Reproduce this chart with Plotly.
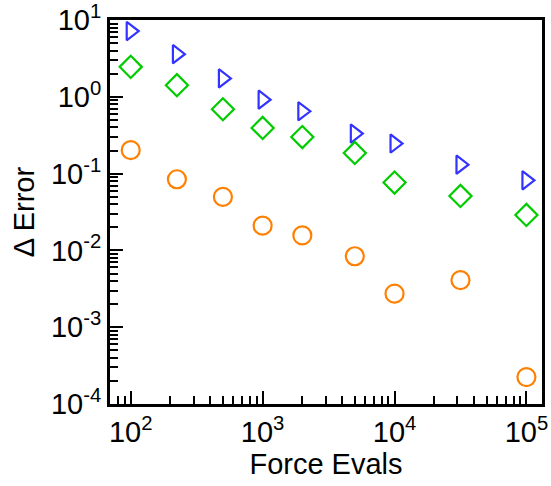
import plotly.graph_objects as go

force_evals = [100, 224, 500, 1000, 2000, 5000, 10000, 31623, 100000]
err_blue = [7.2, 3.6, 1.74, 0.92, 0.65, 0.333, 0.247, 0.131, 0.082]
err_green = [2.46, 1.42, 0.69, 0.394, 0.30, 0.186, 0.0766, 0.0512, 0.029]
err_orange = [0.202, 0.0845, 0.0497, 0.021, 0.0157, 0.0084, 0.00273, 0.0041, 0.000224]

x_tickvals = [1e2, 1e3, 1e4, 1e5]
x_ticktext = ["10<sup>2</sup>", "10<sup>3</sup>", "10<sup>4</sup>", "10<sup>5</sup>"]
y_tickvals = [1e-4, 1e-3, 1e-2, 1e-1, 1e0, 1e1]
y_ticktext = ["10<sup>-4</sup>", "10<sup>-3</sup>", "10<sup>-2</sup>", "10<sup>-1</sup>", "10<sup>0</sup>", "10<sup>1</sup>"]
minor_mult = [2, 3, 4, 5, 6, 7, 8, 9]
x_minor = [m * 10 ** e for e in range(1, 6) for m in minor_mult]
y_minor = [m * 10.0 ** e for e in range(-4, 1) for m in minor_mult]

fig = go.Figure()
fig.add_trace(go.Scatter(x=force_evals, y=err_blue, mode="markers",
                         marker=dict(symbol="triangle-right-open", size=16, color="#3333ff",
                                     line=dict(width=2.2, color="#3333ff"))))
fig.add_trace(go.Scatter(x=force_evals, y=err_green, mode="markers",
                         marker=dict(symbol="diamond-open", size=17, color="#00cc00",
                                     line=dict(width=2.2, color="#00cc00"))))
fig.add_trace(go.Scatter(x=force_evals, y=err_orange, mode="markers",
                         marker=dict(symbol="circle-open", size=18, color="#ff8000",
                                     line=dict(width=2.2, color="#ff8000"))))

font = "Liberation Sans, Arial, sans-serif"
fig.update_layout(
    width=551, height=486,
    margin=dict(l=110, r=9, t=20, b=82),
    plot_bgcolor="white", paper_bgcolor="white",
    showlegend=False,
    font=dict(family=font, color="black", size=29),
)
common = dict(ticks="inside", ticklen=13, tickwidth=2, tickcolor="black",
              showline=True, linewidth=3, linecolor="black", mirror=True,
              showgrid=False, zeroline=False,
              tickfont=dict(size=29, family=font))
fig.update_xaxes(type="log", range=[1.843, 5.118], automargin="bottom",
                 tickvals=x_tickvals, ticktext=x_ticktext,
                 minor=dict(tickvals=x_minor, ticks="inside", ticklen=8,
                            tickwidth=1.5, tickcolor="black", showgrid=False),
                 title=dict(text="Force Evals", font=dict(size=29, family=font), standoff=6),
                 **common)
fig.update_yaxes(type="log", range=[-4.0005, 1.0015], automargin="left",
                 tickvals=y_tickvals, ticktext=y_ticktext,
                 minor=dict(tickvals=y_minor, ticks="inside", ticklen=8,
                            tickwidth=1.5, tickcolor="black", showgrid=False),
                 title=dict(text="Δ Error", font=dict(size=29, family=font), standoff=8),
                 **common)

fig.write_html("out.html", config={"displayModeBar": False},
               post_script="document.body.style.margin='0';document.body.style.overflow='hidden';")
